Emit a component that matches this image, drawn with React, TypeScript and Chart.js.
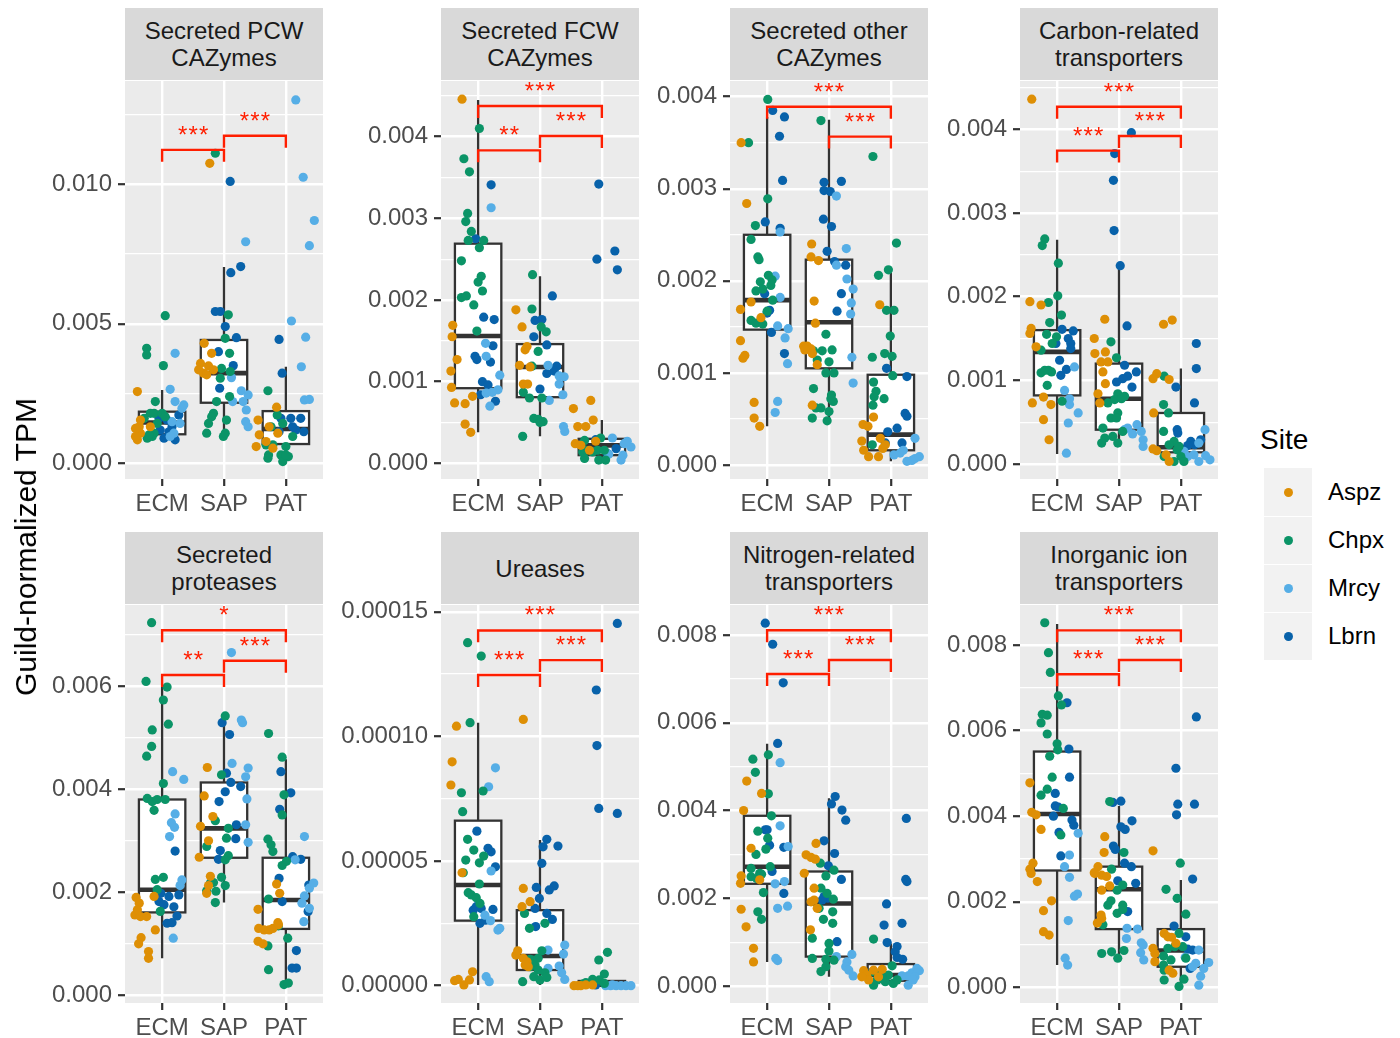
import React, { useEffect, useRef } from 'react';
import { Chart, registerables } from 'chart.js';
Chart.register(...registerables);

// ---------- shared categories ----------
const GROUPS = ['ECM', 'SAP', 'PAT'];
const SITES = ['Aspz', 'Chpx', 'Mrcy', 'Lbrn'];
const SITE_COLORS = ['#DE8F05', '#0B9467', '#56AEE6', '#0862AA'];
const TITLES = [
  'Secreted PCW\nCAZymes', 'Secreted FCW\nCAZymes', 'Secreted other\nCAZymes', 'Carbon-related\ntransporters',
  'Secreted\nproteases', 'Ureases', 'Nitrogen-related\ntransporters', 'Inorganic ion\ntransporters',
];
// value units per panel (points, boxes, brackets below are in these units)
const UNITS = [1e-3, 1e-3, 1e-3, 1e-3, 1e-3, 1e-5, 1e-3, 1e-3];
const Y_RANGES = [[-0.563, 13.70], [-0.192, 4.682], [-0.152, 4.17], [-0.179, 4.577], [-0.147, 7.572], [-0.694, 15.27], [-0.387, 8.684], [-0.367, 8.935]];
const MAJOR_TICKS = [[0, 5, 10], [0, 1, 2, 3, 4], [0, 1, 2, 3, 4], [0, 1, 2, 3, 4], [0, 2, 4, 6], [0, 5, 10, 15], [0, 2, 4, 6, 8], [0, 2, 4, 6, 8]];
const TICK_LABELS = [
  ['0.000', '0.005', '0.010'],
  ['0.000', '0.001', '0.002', '0.003', '0.004'],
  ['0.000', '0.001', '0.002', '0.003', '0.004'],
  ['0.000', '0.001', '0.002', '0.003', '0.004'],
  ['0.000', '0.002', '0.004', '0.006'],
  ['0.00000', '0.00005', '0.00010', '0.00015'],
  ['0.000', '0.002', '0.004', '0.006', '0.008'],
  ['0.000', '0.002', '0.004', '0.006', '0.008'],
];
const MINOR_TICKS = [[2.5, 7.5, 12.5], [0.5, 1.5, 2.5, 3.5, 4.5], [0.5, 1.5, 2.5, 3.5], [0.5, 1.5, 2.5, 3.5, 4.5], [1, 3, 5, 7], [2.5, 7.5, 12.5], [1, 3, 5, 7], [1, 3, 5, 7]];

// ---------- box statistics [lower whisker, q1, median, q3, upper whisker] per group ----------
const BOX_PCW = [[0.80, 1.04, 1.46, 1.85, 2.63], [1.08, 2.17, 3.23, 4.42, 7.03], [0.00, 0.69, 1.23, 1.87, 3.46]];
const BOX_FCW = [[0.38, 0.92, 1.56, 2.69, 4.45], [0.33, 0.81, 1.18, 1.46, 2.29], [0.04, 0.10, 0.22, 0.30, 0.53]];
const BOX_OTH = [[0.42, 1.47, 1.79, 2.50, 3.78], [0.49, 1.05, 1.55, 2.23, 3.75], [0.04, 0.16, 0.33, 0.98, 2.09]];
const BOX_CAR = [[0.12, 0.82, 1.34, 1.60, 2.68], [0.23, 0.41, 0.78, 1.20, 2.40], [0.01, 0.14, 0.20, 0.61, 1.14]];
const BOX_PRO = [[0.72, 1.61, 2.05, 3.80, 5.98], [1.80, 2.67, 3.24, 4.13, 5.41], [0.17, 1.29, 1.85, 2.67, 4.58]];
const BOX_URE = [[0.03, 2.61, 4.04, 6.62, 10.55], [0.03, 0.63, 1.19, 3.03, 5.84], [0, 0, 0.05, 0.19, 0.19]];
const BOX_NIT = [[0.55, 2.33, 2.72, 3.88, 5.52], [0.21, 0.67, 1.88, 2.61, 4.28], [0, 0.12, 0.25, 0.50, 0.97]];
const BOX_INO = [[0.52, 2.73, 4.05, 5.51, 8.49], [0.64, 1.36, 2.29, 2.82, 4.24], [0.02, 0.48, 0.86, 1.36, 2.51]];

// ---------- significance brackets [from group, to group, y, label] ----------
const SIG_PCW = [[1, 2, 11.23, '***'], [2, 3, 11.74, '***']];
const SIG_FCW = [[1, 2, 3.833, '**'], [2, 3, 4.009, '***'], [1, 3, 4.376, '***']];
const SIG_OTH = [[2, 3, 3.566, '***'], [1, 3, 3.891, '***']];
const SIG_CAR = [[1, 2, 3.745, '***'], [2, 3, 3.92, '***'], [1, 3, 4.27, '***']];
const SIG_PRO = [[1, 2, 6.215, '**'], [2, 3, 6.492, '***'], [1, 3, 7.081, '*']];
const SIG_URE = [[1, 2, 12.46, '***'], [2, 3, 13.06, '***'], [1, 3, 14.25, '***']];
const SIG_NIT = [[1, 2, 7.111, '***'], [2, 3, 7.43, '***'], [1, 3, 8.107, '***']];
const SIG_INO = [[1, 2, 7.315, '***'], [2, 3, 7.649, '***'], [1, 3, 8.343, '***']];

// ---------- jittered samples [x position, value] ----------
const PCW_ASPZ = [[0.60, 2.57], [0.63, 1.31], [0.65, 1.08], [0.60, 0.84], [0.57, 0.96], [0.65, 1.55], [0.81, 1.31], [0.57, 1.25], [1.77, 10.75], [1.68, 4.30], [1.80, 3.94], [1.62, 3.58], [1.67, 3.23], [1.75, 3.49], [1.72, 3.17], [1.83, 3.35], [1.59, 3.35], [2.85, 2.01], [2.55, 1.55], [2.73, 1.31], [2.57, 1.02], [2.87, 1.08], [2.52, 0.60], [2.79, 0.54], [2.68, 0.78]];
const PCW_CHPX = [[1.05, 5.29], [0.75, 4.12], [0.75, 3.88], [1.02, 3.50], [0.89, 2.21], [0.81, 1.79], [0.87, 1.79], [1.00, 1.79], [1.05, 1.67], [0.87, 1.08], [0.76, 0.90], [0.84, 0.96], [0.92, 1.43], [0.71, 1.61], [0.79, 1.02], [1.86, 11.11], [2.07, 5.32], [2.02, 4.48], [2.09, 3.94], [1.96, 3.40], [2.10, 3.29], [1.94, 3.05], [2.09, 2.39], [1.88, 2.21], [1.83, 1.79], [1.80, 1.67], [2.04, 1.55], [1.75, 1.43], [1.72, 1.08], [1.99, 0.96], [2.02, 1.08], [2.71, 2.60], [2.86, 1.73], [2.76, 1.31], [2.95, 1.43], [2.68, 0.66], [2.79, 0.66], [3.00, 0.60], [2.72, 0.30], [2.92, 0.30], [3.04, 0.24], [2.95, 0.06], [3.11, 0.96], [2.71, 0.18], [3.00, 0.30]];
const PCW_MRCY = [[1.21, 3.94], [1.13, 2.65], [1.21, 2.21], [1.35, 2.09], [1.32, 1.97], [1.16, 1.49], [1.29, 1.43], [1.19, 1.08], [1.13, 0.96], [2.35, 7.94], [2.12, 3.07], [2.28, 2.60], [2.39, 2.45], [2.14, 2.21], [2.31, 2.21], [2.36, 1.91], [2.35, 1.49], [2.39, 1.31], [3.16, 13.02], [3.28, 10.25], [3.46, 8.70], [3.38, 7.80], [3.09, 5.10], [3.32, 4.52], [3.25, 3.46], [3.30, 2.27], [3.38, 2.29]];
const PCW_LBRN = [[1.27, 1.73], [0.95, 1.61], [1.08, 1.55], [1.16, 1.31], [1.03, 0.90], [1.21, 0.84], [0.97, 1.19], [1.11, 1.13], [2.10, 10.10], [2.11, 6.83], [2.27, 7.05], [1.94, 5.44], [1.86, 5.44], [2.02, 4.90], [2.20, 4.50], [1.91, 4.00], [2.15, 3.50], [1.93, 2.69], [2.89, 4.44], [2.94, 3.23], [2.92, 1.61], [3.08, 1.61], [3.24, 1.61], [3.16, 1.19], [3.29, 1.13], [2.89, 1.13], [3.11, 1.31]];

const FCW_ASPZ = [[0.74, 4.46], [0.59, 1.69], [0.58, 1.55], [0.66, 1.27], [0.56, 1.13], [0.57, 0.93], [0.62, 0.74], [0.79, 0.73], [0.91, 0.82], [0.79, 0.48], [0.88, 0.38], [1.61, 1.88], [1.71, 1.67], [1.79, 1.43], [1.76, 1.39], [1.73, 0.97], [1.80, 0.97], [1.84, 1.18], [1.67, 1.20], [2.82, 0.77], [2.54, 0.67], [2.61, 0.45], [2.74, 0.45], [2.86, 0.53], [2.57, 0.24], [2.66, 0.22], [2.90, 0.27], [2.80, 0.16]];
const FCW_CHPX = [[1.02, 4.10], [0.77, 3.73], [0.86, 3.57], [0.83, 3.06], [0.80, 2.96], [0.89, 2.84], [0.84, 2.73], [1.09, 2.73], [1.02, 2.64], [0.73, 2.48], [1.05, 2.29], [1.00, 2.22], [1.07, 2.11], [0.73, 2.03], [0.81, 2.05], [0.93, 1.94], [0.98, 1.62], [1.88, 2.31], [1.87, 1.89], [2.02, 1.67], [1.97, 1.37], [1.87, 1.19], [1.73, 0.87], [1.83, 0.80], [2.03, 0.80], [1.90, 0.55], [1.97, 0.54], [2.05, 0.51], [2.00, 0.50], [1.72, 0.33], [2.10, 1.61], [2.72, 0.28], [2.74, 0.16], [2.72, 0.06], [2.85, 0.14], [2.93, 0.16], [2.98, 0.31], [2.95, 0.04], [3.06, 0.04], [3.04, 0.16], [2.69, 0.14]];
const FCW_MRCY = [[1.21, 3.13], [1.12, 1.47], [1.13, 1.31], [1.35, 1.08], [1.32, 0.90], [1.23, 0.87], [1.13, 0.86], [1.19, 0.70], [2.13, 1.20], [2.31, 1.07], [2.39, 1.06], [2.31, 0.97], [2.37, 0.84], [2.15, 0.77], [2.38, 0.45], [2.40, 0.39], [3.17, 0.31], [3.36, 0.24], [3.47, 0.20], [3.31, 0.04], [3.34, 0.10], [3.41, 0.27], [3.11, 0.11]];
const FCW_LBRN = [[1.21, 3.41], [0.96, 2.75], [1.09, 1.79], [1.26, 1.76], [0.95, 1.31], [0.98, 1.27], [1.24, 1.44], [1.20, 1.24], [1.07, 1.00], [1.16, 0.96], [1.04, 0.84], [1.28, 0.76], [2.20, 2.05], [1.92, 1.75], [2.03, 1.76], [1.90, 1.55], [2.11, 1.45], [2.27, 1.19], [2.11, 1.10], [2.00, 0.91], [2.23, 1.13], [2.95, 3.42], [2.92, 2.50], [3.21, 2.60], [3.25, 2.37], [2.90, 0.29], [3.09, 0.12], [3.23, 0.18]];

const OTH_ASPZ = [[0.58, 3.50], [0.67, 2.84], [0.57, 1.69], [0.74, 1.77], [0.90, 1.60], [0.57, 1.35], [0.64, 1.19], [0.61, 1.16], [0.79, 0.68], [0.79, 0.51], [0.88, 0.42], [1.72, 2.40], [1.71, 2.26], [1.83, 2.22], [1.76, 1.78], [1.78, 1.54], [1.59, 1.29], [1.65, 1.29], [1.71, 1.26], [1.61, 1.25], [1.73, 1.21], [1.81, 1.09], [1.73, 0.65], [2.82, 1.74], [2.72, 0.52], [2.55, 0.44], [2.63, 0.42], [2.53, 0.26], [2.56, 0.16], [2.64, 0.09], [2.83, 0.29], [2.87, 0.18], [2.80, 0.09], [2.91, 0.22]];
const OTH_CHPX = [[1.01, 3.97], [0.70, 3.50], [1.01, 2.89], [0.81, 2.60], [0.74, 2.45], [0.85, 2.26], [0.87, 2.23], [0.89, 1.99], [1.02, 2.06], [1.06, 1.95], [1.08, 2.01], [0.82, 1.89], [0.93, 1.91], [1.09, 1.79], [0.74, 1.57], [0.82, 1.54], [0.93, 1.53], [1.00, 1.67], [1.87, 3.74], [1.95, 1.42], [1.75, 1.24], [1.89, 1.24], [2.05, 1.25], [1.81, 1.14], [2.00, 1.12], [1.95, 1.00], [2.08, 1.00], [1.75, 0.83], [2.04, 0.76], [2.07, 0.69], [1.79, 0.62], [1.87, 0.62], [2.00, 0.58], [1.73, 0.51], [1.97, 0.48], [2.03, 0.72], [2.71, 3.35], [2.80, 2.06], [2.96, 2.12], [3.09, 2.41], [2.93, 1.68], [3.05, 1.68], [2.99, 1.40], [2.70, 1.17], [2.90, 1.21], [3.02, 1.18], [3.03, 0.97], [2.72, 0.90], [2.76, 0.80], [2.89, 0.72], [2.71, 0.65], [2.73, 0.74], [2.70, 0.22]];
const OTH_MRCY = [[1.13, 2.05], [1.21, 1.82], [1.21, 2.53], [1.17, 1.51], [1.34, 1.48], [1.29, 1.38], [1.33, 1.10], [1.17, 0.69], [1.13, 0.57], [2.12, 2.92], [2.28, 2.35], [2.12, 2.17], [2.29, 2.02], [2.39, 1.91], [2.36, 1.76], [2.35, 1.64], [2.37, 1.17], [2.39, 0.89], [3.39, 0.29], [3.05, 0.11], [3.15, 0.13], [3.20, 0.16], [3.26, 0.04], [3.34, 0.05], [3.39, 0.07], [3.46, 0.09]];
const OTH_LBRN = [[1.09, 3.85], [1.28, 3.78], [1.20, 3.57], [1.25, 3.09], [0.97, 2.64], [1.21, 2.57], [0.96, 1.86], [1.04, 1.68], [1.00, 1.65], [1.07, 1.44], [1.28, 1.21], [1.92, 3.07], [2.20, 3.08], [1.92, 2.98], [2.02, 2.97], [1.91, 2.67], [2.04, 2.59], [1.97, 2.32], [2.09, 2.21], [2.27, 2.17], [2.20, 1.86], [2.13, 1.67], [2.93, 1.05], [3.26, 0.96], [3.23, 0.56], [3.26, 0.53], [3.10, 0.40], [2.95, 0.36], [2.91, 0.24], [3.18, 0.24]];

const CAR_ASPZ = [[0.59, 4.36], [0.56, 1.94], [0.74, 1.90], [0.58, 1.62], [0.56, 1.56], [0.66, 1.40], [0.60, 0.73], [0.78, 0.80], [0.90, 0.71], [0.78, 0.53], [0.87, 0.29], [1.77, 1.73], [1.60, 1.50], [1.61, 1.32], [1.78, 1.34], [1.71, 1.22], [1.82, 1.22], [1.74, 1.10], [1.78, 0.96], [1.69, 0.73], [1.66, 0.84], [2.72, 1.67], [2.86, 1.72], [2.61, 1.08], [2.55, 1.02], [2.81, 1.01], [2.56, 0.61], [2.55, 0.18], [2.61, 0.16], [2.81, 0.03], [2.76, 0.11]];
const CAR_CHPX = [[0.80, 2.69], [0.76, 2.61], [1.02, 2.40], [1.01, 2.01], [0.86, 1.93], [1.07, 1.78], [0.88, 1.69], [0.83, 1.55], [0.99, 1.52], [0.92, 1.44], [0.74, 1.36], [0.86, 1.12], [0.74, 1.09], [0.91, 1.10], [0.80, 1.12], [0.84, 0.94], [1.08, 0.75], [1.87, 1.46], [1.96, 1.27], [1.98, 0.84], [1.82, 0.73], [1.93, 0.77], [2.04, 0.78], [2.09, 0.81], [1.98, 0.61], [1.87, 0.55], [1.96, 0.55], [1.74, 0.43], [1.77, 0.31], [1.90, 0.33], [1.98, 0.25], [1.72, 0.25], [2.06, 0.39], [2.73, 1.05], [2.72, 0.71], [2.80, 0.61], [2.72, 0.39], [2.89, 0.27], [2.73, 0.09], [2.81, 0.23], [2.94, 0.17], [3.00, 0.09], [3.05, 0.03], [2.89, 0.03], [2.97, 0.21]];
const CAR_MRCY = [[1.28, 1.16], [1.12, 0.88], [1.20, 0.78], [1.20, 0.71], [1.34, 0.61], [1.18, 0.49], [1.15, 0.13], [2.29, 0.47], [2.36, 0.39], [2.14, 0.43], [2.22, 0.36], [2.39, 0.29], [2.39, 0.21], [2.09, 0.41], [3.39, 0.41], [3.29, 0.25], [3.21, 0.11], [3.29, 0.03], [3.47, 0.05], [3.11, 0.09], [3.40, 0.10], [3.05, 0.15]];
const CAR_LBRN = [[1.08, 1.61], [1.26, 1.59], [0.98, 1.44], [1.18, 1.50], [1.22, 1.44], [1.22, 1.38], [1.04, 1.24], [1.15, 1.13], [1.06, 1.06], [2.20, 3.96], [1.93, 3.71], [1.91, 3.39], [1.92, 2.79], [2.02, 2.37], [2.13, 1.65], [2.09, 1.18], [2.28, 1.10], [2.14, 1.05], [2.06, 1.02], [1.96, 0.98], [2.21, 0.92], [3.25, 1.44], [3.25, 1.14], [3.22, 0.73], [2.92, 0.92], [2.94, 0.41], [2.95, 0.37], [3.16, 0.27], [3.32, 0.29], [3.22, 0.23], [3.11, 0.22]];

const PRO_ASPZ = [[0.58, 1.90], [0.63, 1.79], [0.56, 1.56], [0.65, 1.53], [0.75, 1.53], [0.87, 1.92], [0.66, 1.12], [0.62, 1.00], [0.78, 0.85], [0.78, 0.72], [0.89, 1.27], [0.60, 1.66], [1.73, 4.42], [1.68, 3.87], [1.82, 3.47], [1.62, 3.28], [1.75, 3.00], [1.60, 2.68], [1.78, 2.31], [1.75, 2.13], [1.72, 1.98], [2.85, 2.16], [2.90, 1.98], [2.55, 1.67], [2.56, 1.30], [2.65, 1.27], [2.73, 1.27], [2.79, 1.30], [2.87, 1.41], [2.55, 1.05], [2.63, 1.00], [2.88, 1.37]];
const PRO_CHPX = [[0.83, 7.23], [0.74, 6.09], [1.08, 5.98], [1.02, 5.73], [0.84, 5.15], [1.10, 5.26], [0.83, 4.83], [0.75, 4.64], [1.02, 4.11], [0.76, 3.82], [0.84, 3.76], [0.87, 3.59], [0.92, 3.80], [1.05, 3.80], [0.89, 2.25], [1.02, 2.29], [0.92, 2.05], [0.97, 1.63], [2.02, 5.42], [1.96, 4.28], [1.86, 3.39], [2.07, 3.24], [2.04, 3.05], [1.72, 2.89], [2.07, 2.71], [2.02, 2.63], [1.96, 2.29], [1.83, 2.19], [2.02, 2.13], [1.72, 2.03], [1.87, 2.02], [1.86, 1.80], [1.78, 2.18], [2.72, 5.08], [2.94, 4.62], [2.97, 3.89], [2.94, 3.50], [2.71, 3.03], [2.76, 2.92], [2.79, 2.79], [2.94, 2.52], [3.01, 2.60], [2.72, 1.87], [2.88, 1.35], [2.71, 0.96], [3.03, 1.11], [2.72, 0.50], [2.97, 0.21], [3.04, 0.24]];
const PRO_MRCY = [[1.17, 4.34], [1.35, 4.19], [1.21, 3.52], [1.15, 3.35], [1.20, 3.26], [1.12, 3.08], [1.32, 2.24], [1.29, 2.13], [1.18, 1.11], [2.12, 6.65], [2.28, 5.34], [2.30, 5.29], [2.13, 4.50], [2.39, 4.41], [2.35, 4.24], [2.37, 3.81], [2.35, 3.31], [2.39, 2.97], [3.30, 3.08], [3.15, 2.63], [3.30, 1.93], [3.38, 2.08], [3.45, 2.18], [3.38, 1.69], [3.29, 1.43], [3.26, 1.79]];
const PRO_LBRN = [[1.21, 2.80], [0.98, 1.98], [1.11, 1.92], [1.27, 1.95], [0.95, 1.82], [1.03, 1.76], [1.19, 1.72], [1.08, 1.40], [1.16, 1.41], [1.24, 1.54], [1.97, 5.29], [2.09, 5.06], [2.04, 4.31], [2.11, 4.13], [2.27, 4.05], [2.02, 3.95], [1.92, 3.76], [2.20, 3.31], [1.94, 2.81], [1.91, 2.64], [2.19, 3.04], [2.92, 4.34], [3.08, 3.93], [2.90, 3.61], [2.89, 2.27], [3.24, 2.64], [3.11, 2.69], [3.37, 2.14], [2.94, 1.82], [3.36, 1.63], [3.17, 0.87], [3.10, 0.53], [3.17, 0.53]];

const URE_ASPZ = [[0.65, 10.41], [0.58, 8.98], [0.56, 8.05], [0.74, 4.53], [0.62, 0.20], [0.68, 0.25], [0.77, 0.03], [0.86, 0.23], [0.91, 0.56], [1.73, 10.68], [1.73, 3.90], [1.71, 3.17], [1.84, 3.37], [1.61, 1.23], [1.64, 1.40], [1.73, 1.10], [1.79, 0.96], [1.81, 0.76], [1.76, 0.83], [2.55, 0], [2.61, 0], [2.66, 0], [2.74, 0.03], [2.85, 0.03]];
const URE_CHPX = [[0.83, 13.76], [1.05, 13.22], [0.87, 10.55], [0.73, 7.74], [0.75, 6.98], [1.08, 7.81], [0.83, 5.87], [0.93, 5.44], [0.80, 5.04], [1.09, 5.20], [1.02, 4.93], [0.76, 4.53], [1.02, 4.08], [0.84, 3.73], [0.89, 3.64], [0.97, 3.53], [1.03, 3.30], [0.93, 2.77], [1.75, 2.90], [1.83, 2.30], [2.08, 2.50], [2.03, 1.40], [1.88, 1.03], [1.92, 0.83], [1.84, 0.76], [1.97, 0.63], [2.08, 0.52], [1.90, 0.36], [2.00, 0.23], [1.72, 0.16], [2.11, 0.33], [1.84, 1.06], [1.97, 1.10], [3.09, 1.34], [2.95, 1.03], [3.04, 0.47], [2.85, 0.25], [2.74, 0.12], [2.70, 0.07], [2.96, 0.23], [2.82, 0.09], [3.04, 0.09]];
const URE_MRCY = [[1.28, 8.74], [1.17, 7.98], [1.21, 4.60], [1.11, 2.83], [1.20, 2.61], [1.32, 2.23], [1.35, 2.30], [1.13, 0.36], [1.18, 0.16], [2.13, 1.43], [2.40, 1.63], [2.38, 1.27], [2.13, 0.70], [2.31, 0.79], [2.35, 0.52], [2.40, 0.25], [3.06, 0], [3.14, 0], [3.23, 0], [3.31, 0], [3.39, 0], [3.47, 0], [3.17, 0.03]];
const URE_LBRN = [[0.98, 6.20], [1.16, 5.51], [1.21, 5.37], [1.28, 4.77], [0.92, 3.03], [0.97, 3.17], [1.05, 3.10], [1.24, 3.06], [1.03, 2.50], [1.12, 2.63], [2.11, 5.87], [2.05, 5.57], [2.29, 5.60], [2.03, 4.91], [1.94, 3.94], [2.23, 4.00], [2.15, 3.84], [1.99, 3.50], [1.92, 3.10], [2.11, 2.90], [2.20, 2.66], [1.93, 2.37], [3.25, 14.53], [2.91, 11.86], [2.92, 9.63], [2.95, 7.11], [3.25, 6.91], [2.90, 0.03]];

const NIT_ASPZ = [[0.67, 4.67], [0.91, 4.39], [0.62, 4.00], [0.74, 3.14], [0.58, 2.51], [0.57, 2.34], [0.88, 2.42], [0.58, 1.75], [0.66, 1.35], [0.78, 0.86], [0.78, 0.55], [1.79, 3.25], [1.63, 2.99], [1.71, 2.93], [1.78, 2.89], [1.60, 2.57], [1.76, 2.23], [1.71, 1.92], [1.76, 1.96], [1.70, 1.28], [1.81, 1.77], [2.56, 0.35], [2.61, 0.25], [2.72, 0.36], [2.64, 0.14], [2.80, 0.21], [2.86, 0.38], [2.53, 0.21]];
const NIT_CHPX = [[0.77, 5.17], [0.81, 4.87], [1.02, 5.27], [1.02, 4.38], [1.07, 3.88], [0.85, 3.53], [1.01, 3.37], [0.82, 3.00], [0.98, 3.12], [0.74, 2.68], [0.88, 2.57], [1.05, 2.72], [0.83, 2.45], [0.91, 2.55], [0.94, 2.13], [0.85, 1.69], [0.91, 1.52], [0.74, 2.49], [1.86, 2.80], [1.95, 2.51], [2.08, 2.64], [1.87, 2.23], [2.07, 1.98], [1.84, 1.77], [2.06, 1.69], [2.06, 1.43], [1.73, 1.09], [2.00, 0.97], [2.00, 0.80], [1.73, 0.63], [1.95, 0.61], [2.08, 0.59], [1.87, 0.33], [1.95, 0.44], [1.97, 2.11], [1.91, 1.52], [2.72, 1.07], [3.02, 0.46], [2.71, 0.33], [2.83, 0.29], [2.96, 0.25], [2.78, 0.14], [2.72, 0.02], [2.91, 0.10], [3.04, 0.06], [3.10, 0.14], [2.86, 0.17]];
const NIT_MRCY = [[1.21, 5.09], [1.21, 3.65], [1.13, 2.33], [1.28, 2.38], [1.34, 3.18], [1.17, 1.77], [1.33, 1.82], [1.14, 0.63], [1.17, 0.58], [2.12, 0.67], [2.29, 0.55], [2.37, 0.72], [2.27, 0.44], [2.39, 0.23], [2.32, 0.36], [3.28, 0.23], [3.34, 0.30], [3.46, 0.35], [3.39, 0.21], [3.28, 0.02], [3.18, 0.23], [3.36, 0.14], [3.42, 0.40]];
const NIT_LBRN = [[0.97, 8.27], [1.09, 7.79], [1.26, 6.91], [1.17, 5.53], [0.97, 3.56], [1.00, 3.56], [1.04, 3.21], [1.27, 3.16], [1.08, 2.61], [1.27, 2.11], [2.10, 4.32], [2.04, 4.15], [2.21, 4.01], [2.27, 3.78], [1.92, 3.31], [2.09, 3.02], [1.99, 2.74], [2.20, 2.43], [1.92, 2.04], [1.98, 2.00], [1.89, 1.96], [2.13, 1.01], [3.25, 3.82], [3.24, 2.43], [3.26, 2.38], [3.18, 1.43], [2.93, 1.87], [2.89, 1.39], [2.94, 0.99], [3.10, 0.90], [3.07, 0.78], [3.10, 0.65], [3.19, 0.61]];

const INO_ASPZ = [[0.56, 4.78], [0.59, 4.09], [0.66, 4.03], [0.74, 3.69], [0.61, 2.90], [0.56, 2.76], [0.58, 2.66], [0.68, 2.47], [0.91, 2.02], [0.78, 1.79], [0.78, 1.30], [0.87, 1.22], [1.77, 3.52], [1.76, 3.15], [1.60, 2.68], [1.66, 2.82], [1.72, 2.62], [1.80, 2.59], [1.72, 2.27], [1.85, 2.37], [1.72, 1.61], [1.65, 1.50], [1.71, 1.69], [1.61, 2.66], [2.55, 3.19], [2.55, 0.91], [2.58, 0.79], [2.73, 1.26], [2.85, 1.17], [2.58, 0.60], [2.81, 0.40], [2.87, 0.33], [2.92, 1.03], [2.79, 1.18]];
const INO_CHPX = [[0.80, 8.52], [0.86, 7.82], [0.89, 7.36], [1.02, 6.81], [1.07, 6.60], [0.76, 6.38], [0.74, 6.18], [0.84, 6.36], [0.84, 5.92], [1.00, 5.69], [1.01, 5.55], [0.88, 5.40], [0.92, 4.91], [0.84, 4.63], [0.74, 4.49], [1.10, 4.18], [1.06, 3.56], [1.85, 4.34], [2.08, 3.15], [1.88, 2.76], [2.06, 2.39], [1.97, 2.27], [1.87, 2.02], [2.06, 1.92], [1.82, 1.92], [1.97, 1.73], [2.06, 1.82], [1.74, 1.46], [1.72, 0.79], [1.88, 0.83], [2.08, 0.86], [1.98, 0.68], [2.99, 2.90], [2.76, 2.29], [2.94, 2.08], [3.08, 1.71], [2.97, 1.26], [2.72, 0.73], [2.79, 0.91], [2.90, 0.95], [3.03, 0.95], [3.08, 0.68], [2.72, 0.52], [2.73, 0.40], [2.73, 0.17], [2.97, 0.02], [3.05, 0.19], [2.84, 0.64]];
const INO_MRCY = [[1.34, 3.60], [1.20, 3.09], [1.12, 2.82], [1.20, 2.57], [1.33, 2.18], [1.28, 2.13], [1.18, 1.56], [1.13, 0.68], [1.17, 0.52], [2.13, 1.38], [2.30, 1.36], [2.12, 1.14], [2.36, 1.04], [2.39, 0.99], [2.35, 0.81], [2.40, 0.64], [3.07, 0.70], [3.29, 0.87], [3.45, 0.58], [3.24, 0.56], [3.37, 0.44], [3.32, 0.26], [3.29, 0.05], [3.19, 0.48]];
const INO_LBRN = [[1.16, 6.65], [1.19, 5.57], [1.20, 4.91], [0.97, 4.53], [0.97, 4.24], [1.02, 4.21], [0.94, 4.00], [1.24, 3.91], [1.27, 3.79], [1.03, 3.62], [1.06, 3.07], [1.90, 4.32], [2.03, 4.35], [2.21, 3.89], [2.03, 3.75], [2.10, 3.69], [1.91, 3.30], [1.94, 3.22], [2.09, 2.90], [2.20, 2.82], [1.98, 2.49], [2.27, 2.43], [2.14, 1.77], [3.25, 6.32], [2.92, 5.12], [2.95, 4.28], [2.93, 4.03], [3.22, 4.28], [3.19, 2.53], [2.89, 1.43], [3.08, 1.18], [3.11, 0.89], [3.19, 0.87], [3.15, 0.44]];

const POINTS = [
  [PCW_ASPZ, PCW_CHPX, PCW_MRCY, PCW_LBRN],
  [FCW_ASPZ, FCW_CHPX, FCW_MRCY, FCW_LBRN],
  [OTH_ASPZ, OTH_CHPX, OTH_MRCY, OTH_LBRN],
  [CAR_ASPZ, CAR_CHPX, CAR_MRCY, CAR_LBRN],
  [PRO_ASPZ, PRO_CHPX, PRO_MRCY, PRO_LBRN],
  [URE_ASPZ, URE_CHPX, URE_MRCY, URE_LBRN],
  [NIT_ASPZ, NIT_CHPX, NIT_MRCY, NIT_LBRN],
  [INO_ASPZ, INO_CHPX, INO_MRCY, INO_LBRN],
];
const BOXES = [BOX_PCW, BOX_FCW, BOX_OTH, BOX_CAR, BOX_PRO, BOX_URE, BOX_NIT, BOX_INO];
const SIGS = [SIG_PCW, SIG_FCW, SIG_OTH, SIG_CAR, SIG_PRO, SIG_URE, SIG_NIT, SIG_INO];

// ---------- layout ----------
const FONT = '"Liberation Sans", Arial, Helvetica, sans-serif';
const COL_LEFT = [125, 441, 730, 1020];
const ROW_TOP = [81, 605];
const PANEL_W = 198;
const PANEL_H = 398;
const AXIS_W = 110;
const XAXIS_H = 44;
const TOP_PAD = 20;
const STRIP_H = 72;
const RED = '#FF1E00';
const INK = '#333333';

function Panel({ idx }: { idx: number }) {
  const ref = useRef<HTMLCanvasElement>(null);
  const left = COL_LEFT[idx % 4];
  const top = ROW_TOP[Math.floor(idx / 4)];

  useEffect(() => {
    const u = UNITS[idx];
    const majors = MAJOR_TICKS[idx];
    const labels = TICK_LABELS[idx];
    const minors = MINOR_TICKS[idx];
    const box = BOXES[idx];
    const sig = SIGS[idx];

    const bgPlugin = {
      id: 'panelBg',
      beforeDraw(chart: any) {
        const { ctx, chartArea: a } = chart;
        ctx.save();
        ctx.fillStyle = '#EBEBEB';
        ctx.fillRect(a.left, a.top, a.right - a.left, a.bottom - a.top);
        ctx.restore();
      },
    };
    const boxPlugin = {
      id: 'boxes',
      beforeDatasetsDraw(chart: any) {
        const { ctx } = chart;
        const xs = chart.scales.x;
        const ys = chart.scales.y;
        ctx.save();
        box.forEach((b: number[], i: number) => {
          const [lo, q1, med, q3, hi] = b.map((v) => ys.getPixelForValue(v * u));
          const xc = xs.getPixelForValue(i + 1);
          const xl = xs.getPixelForValue(i + 1 - 0.375);
          const xr = xs.getPixelForValue(i + 1 + 0.375);
          ctx.strokeStyle = INK;
          ctx.lineWidth = 2.3;
          ctx.beginPath();
          ctx.moveTo(xc, hi);
          ctx.lineTo(xc, q3);
          ctx.moveTo(xc, q1);
          ctx.lineTo(xc, lo);
          ctx.stroke();
          ctx.fillStyle = '#FFFFFF';
          ctx.fillRect(xl, q3, xr - xl, q1 - q3);
          ctx.strokeRect(xl, q3, xr - xl, q1 - q3);
          ctx.lineWidth = 4.6;
          ctx.beginPath();
          ctx.moveTo(xl, med);
          ctx.lineTo(xr, med);
          ctx.stroke();
        });
        ctx.restore();
      },
    };
    const sigPlugin = {
      id: 'brackets',
      afterDatasetsDraw(chart: any) {
        const { ctx } = chart;
        const xs = chart.scales.x;
        const ys = chart.scales.y;
        const tip = ys.getPixelForValue(ys.min) - ys.getPixelForValue(ys.min + 0.03 * (ys.max - ys.min));
        ctx.save();
        sig.forEach(([g1, g2, yv, label]: any) => {
          const y = ys.getPixelForValue(yv * u);
          const x1 = xs.getPixelForValue(g1);
          const x2 = xs.getPixelForValue(g2);
          ctx.strokeStyle = RED;
          ctx.lineWidth = 2.4;
          ctx.beginPath();
          ctx.moveTo(x1, y + tip);
          ctx.lineTo(x1, y);
          ctx.lineTo(x2, y);
          ctx.lineTo(x2, y + tip);
          ctx.stroke();
          ctx.fillStyle = RED;
          ctx.font = `24px ${FONT}`;
          ctx.textAlign = 'center';
          ctx.textBaseline = 'alphabetic';
          const n = String(label).length;
          const step = 10.5;
          const cx = (x1 + x2) / 2;
          for (let k = 0; k < n; k++) {
            ctx.fillText('*', cx + (k - (n - 1) / 2) * step, y - 7);
          }
        });
        ctx.restore();
      },
    };

    const isMinor = (c: any) => c && c.tick && c.tick.isMajor === false;

    const chart = new Chart(ref.current as HTMLCanvasElement, {
      type: 'scatter',
      data: {
        datasets: SITES.map((s, i) => ({
          label: s,
          data: POINTS[idx][i].map(([x, y]) => ({ x, y: y * u })),
          backgroundColor: SITE_COLORS[i],
          borderWidth: 0,
          pointRadius: 4.6,
          pointHoverRadius: 4.6,
        })),
      },
      options: {
        responsive: false,
        animation: false,
        devicePixelRatio: 1,
        layout: { padding: { top: TOP_PAD, left: 0, right: 0, bottom: 0 }, autoPadding: false },
        plugins: { legend: { display: false }, tooltip: { enabled: false } },
        scales: {
          x: {
            type: 'linear',
            min: 0.4,
            max: 3.6,
            afterBuildTicks: (s: any) => {
              s.ticks = [1, 2, 3].map((v) => ({ value: v, isMajor: true }));
            },
            afterFit: (s: any) => {
              s.height = XAXIS_H;
              s.paddingLeft = 0;
              s.paddingRight = 0;
            },
            border: { display: false },
            grid: { color: '#FFFFFF', lineWidth: 2.4, tickColor: INK, tickWidth: 2.2, tickLength: 7 },
            ticks: {
              autoSkip: false,
              maxRotation: 0,
              padding: 4,
              color: '#4D4D4D',
              font: { family: FONT, size: 24 },
              callback: (v: any) => GROUPS[Math.round(Number(v)) - 1],
            },
          },
          y: {
            type: 'linear',
            min: Y_RANGES[idx][0] * u,
            max: Y_RANGES[idx][1] * u,
            afterBuildTicks: (s: any) => {
              const t = majors.map((v) => ({ value: v * u, isMajor: true }))
                .concat(minors.map((v) => ({ value: v * u, isMajor: false })));
              t.sort((a, b) => a.value - b.value);
              s.ticks = t;
            },
            afterFit: (s: any) => {
              s.width = AXIS_W;
              s.paddingTop = 0;
              s.paddingBottom = 0;
            },
            border: { display: false },
            grid: {
              color: '#FFFFFF',
              lineWidth: (c: any) => (isMinor(c) ? 1.2 : 2.4),
              tickColor: (c: any) => (isMinor(c) ? 'rgba(0,0,0,0)' : INK),
              tickWidth: 2.2,
              tickLength: 7,
            },
            ticks: {
              autoSkip: false,
              padding: 6,
              color: '#4D4D4D',
              font: { family: FONT, size: 24 },
              callback: (v: any) => {
                const i = majors.findIndex((m) => Math.abs(m * u - Number(v)) < u * 1e-6);
                return i >= 0 ? labels[i] : '';
              },
            },
          },
        },
      } as any,
      plugins: [bgPlugin, boxPlugin, sigPlugin],
    });
    return () => chart.destroy();
  }, [idx]);

  return (
    <>
      <div
        style={{
          position: 'absolute', left, top: top - STRIP_H - 1, width: PANEL_W, height: STRIP_H,
          background: '#D9D9D9', display: 'flex', alignItems: 'center', justifyContent: 'center',
          textAlign: 'center', whiteSpace: 'pre-line', font: `24px ${FONT}`, lineHeight: '27px', color: '#1A1A1A',
        }}
      >
        {TITLES[idx]}
      </div>
      <canvas
        ref={ref}
        width={AXIS_W + PANEL_W}
        height={TOP_PAD + PANEL_H + XAXIS_H}
        style={{ position: 'absolute', left: left - AXIS_W, top: top - TOP_PAD, width: AXIS_W + PANEL_W, height: TOP_PAD + PANEL_H + XAXIS_H }}
      />
    </>
  );
}

function Legend() {
  return (
    <>
      <div style={{ position: 'absolute', left: 1260, top: 426, font: `28px ${FONT}`, lineHeight: '28px', color: '#000' }}>Site</div>
      {SITES.map((s, i) => (
        <React.Fragment key={s}>
          <div style={{ position: 'absolute', left: 1264, top: 468 + i * 48, width: 48, height: 48, background: '#F2F2F2', boxSizing: 'border-box', borderTop: i ? '1px solid #FFFFFF' : 'none' }} />
          <div style={{ position: 'absolute', left: 1283.5, top: 487.5 + i * 48, width: 9, height: 9, borderRadius: '50%', background: SITE_COLORS[i] }} />
          <div style={{ position: 'absolute', left: 1328, top: 468 + i * 48, height: 48, display: 'flex', alignItems: 'center', font: `24px ${FONT}`, color: '#000' }}>{s}</div>
        </React.Fragment>
      ))}
    </>
  );
}

export default function App() {
  return (
    <div style={{ position: 'absolute', left: 0, top: 0, width: 1400, height: 1038, background: '#FFFFFF', overflow: 'hidden' }}>
      {TITLES.map((_, i) => (
        <Panel key={i} idx={i} />
      ))}
      <div
        style={{
          position: 'absolute', left: 26, top: 547, transform: 'translate(-50%, -50%) rotate(-90deg)',
          whiteSpace: 'nowrap', font: `30px ${FONT}`, color: '#000',
        }}
      >
        Guild-normalized TPM
      </div>
      <Legend />
    </div>
  );
}
